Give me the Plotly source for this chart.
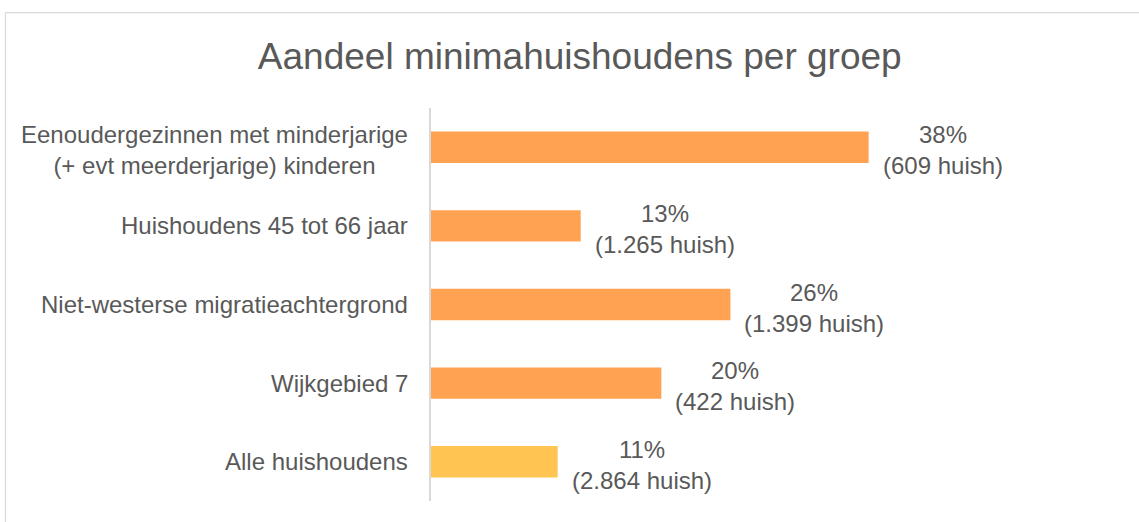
import plotly.graph_objects as go

# Data
groepen = [
    "Eenoudergezinnen met minderjarige<br>(+ evt meerderjarige) kinderen",
    "Huishoudens 45 tot 66 jaar",
    "Niet-westerse migratieachtergrond",
    "Wijkgebied 7",
    "Alle huishoudens",
]
aandeel = [0.38, 0.13, 0.26, 0.20, 0.11]
aantal_huish = ["609", "1.265", "1.399", "422", "2.864"]
kleuren = ["#FFA352", "#FFA352", "#FFA352", "#FFA352", "#FFC452"]

grijs = "#595959"
font_naam = "Liberation Sans, Arial, sans-serif"

fig = go.Figure()

fig.add_trace(go.Bar(
    x=aandeel,
    y=list(range(len(groepen))),
    orientation="h",
    marker=dict(color=kleuren, line=dict(width=0)),
    hoverinfo="skip",
    showlegend=False,
))

# Category labels (centered multi-line, right of the label block at the axis)
for i, g in enumerate(groepen):
    fig.add_annotation(
        x=0, y=i, xref="x", yref="y",
        text=g, showarrow=False,
        xanchor="right", align="center",
        xshift=-21, yshift=-3 if "<br>" in g else 0,
        font=dict(family=font_naam, size=24, color=grijs),
    )

# Data labels next to the bars
for i, (v, n) in enumerate(zip(aandeel, aantal_huish)):
    fig.add_annotation(
        x=v, y=i, xref="x", yref="y",
        text=f"{v * 100:.0f}%<br>({n} huish)", showarrow=False,
        xanchor="left", align="center",
        xshift=12, yshift=-3,
        font=dict(family=font_naam, size=24, color=grijs),
    )

# Chart border
fig.add_shape(
    type="rect", xref="paper", yref="paper",
    x0=-0.6158, x1=1.04, y0=-0.08, y1=1.2426,
    line=dict(color="#D9D9D9", width=1.3),
    fillcolor="rgba(0,0,0,0)",
)

fig.update_layout(
    width=1139,
    height=522,
    margin=dict(l=431, r=17, t=108, b=21),
    paper_bgcolor="white",
    plot_bgcolor="white",
    bargap=0.6,
    title=dict(
        text="Aandeel minimahuishoudens per groep",
        x=0.509, xref="container", xanchor="center",
        y=0.893, yref="container", yanchor="middle",
        font=dict(family=font_naam, size=37, color=grijs),
    ),
    xaxis=dict(
        range=[0, 0.6],
        showgrid=False, zeroline=False, showticklabels=False,
        showline=False, fixedrange=True,
    ),
    yaxis=dict(
        range=[len(groepen) - 0.5, -0.5],
        showgrid=False, zeroline=False, showticklabels=False,
        showline=True, linecolor="#D9D9D9", linewidth=2,
        ticks="", fixedrange=True,
    ),
)

fig.write_html(
    "out.html",
    config={"displayModeBar": False},
    post_script="document.body.style.margin='0';",
)
